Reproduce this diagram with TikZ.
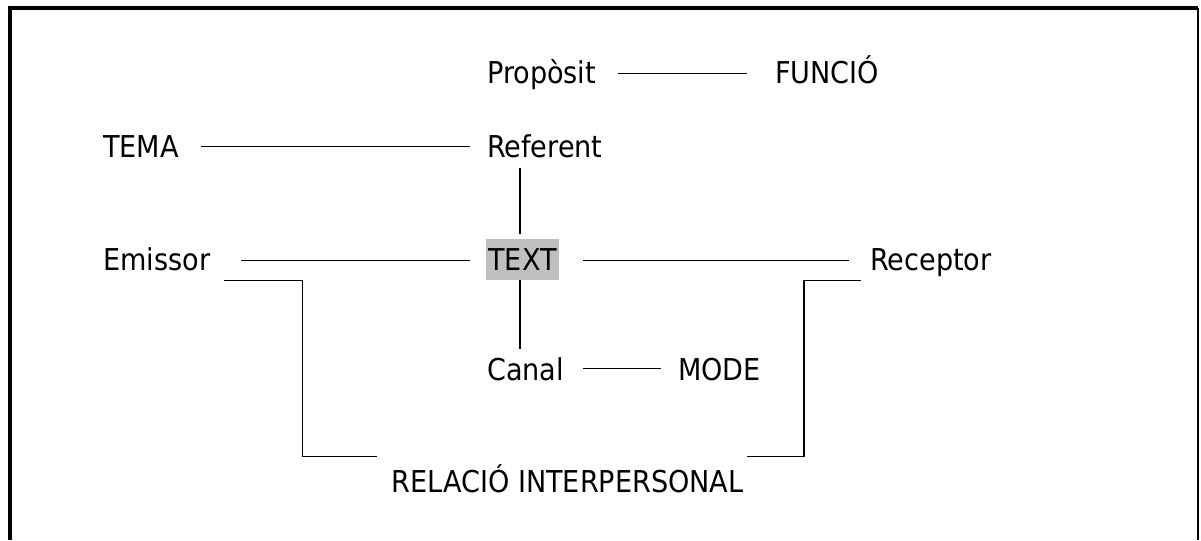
\documentclass[tikz,border=0pt]{standalone}
\usepackage{fontspec}
\setmainfont{DejaVu Sans Condensed}
\usepackage{tikz}
\usetikzlibrary{calc}
\tikzset{concept/.style={anchor=west, inner sep=0pt, text height=15.6pt, text depth=0pt, font=\fontsize{21.4}{25}\selectfont}}
\tikzset{link/.style={line width=1pt}}

\begin{document}
\begin{tikzpicture}[x=0.025cm, y=-0.025cm]
\useasboundingbox (0,0) rectangle (1201,540);
\draw[line width=2.4pt] (10,540) -- (10,8) -- (1198,8);
\draw[line width=1.4pt] (1198,8) -- (1198,540);
\node[concept] (prop) at (487,72.5) {Propòsit};
\node[concept] (funcio) at (775,72.5) {FUNCIÓ};
\node[concept] (tema) at (103,146.5) {TEMA};
\node[concept] (referent) at (487,146.5) {Referent};
\node[concept] (emissor) at (103,259.5) {Emissor};
\node[concept, fill=gray!50, inner xsep=1.5pt, inner ysep=6.5pt, minimum width=51pt] (txt) at (486,259.5) {TEXT};
\node[concept] (receptor) at (870,259.5) {Receptor};
\node[concept] (canal) at (487,369.5) {Canal};
\node[concept] (mode) at (678,369.5) {MODE};
\node[concept] (relacio) at (391.5,482) {RELACIÓ INTERPERSONAL};
\draw[link] ($(prop.east)+(22,1)$) -- ($(funcio.west)+(-28,1)$);
\draw[link] ($(tema.east)+(22,0)$) -- ($(referent.west)+(-17,0)$);
\draw[link] ($(emissor.east)+(31,1)$) -- ($(txt.west)+(-16,1)$);
\draw[link] ($(txt.east)+(24,1)$) -- ($(receptor.west)+(-21,1)$);
\draw[link] ($(canal.east)+(19,-1)$) -- ($(mode.west)+(-17.5,-1)$);
\coordinate (axis) at ($(txt.center)+(-2.6,0)$);
\draw[link] ($(axis |- referent.south)+(0,10.7)$) -- ($(axis |- txt.north)+(0,-5)$);
\draw[link] (axis |- txt.south) -- ($(axis |- canal.north)+(0,-9)$);
\draw[link] ($(emissor.south east)+(14,9.5)$) -- ++(78,0) |- ($(relacio.west)+(-14.5,-25.3)$);
\draw[link] ($(receptor.south west)+(-9,10)$) -- ++(-57,0) |- ($(relacio.east)+(3,-25.3)$);
\end{tikzpicture}
\end{document}
